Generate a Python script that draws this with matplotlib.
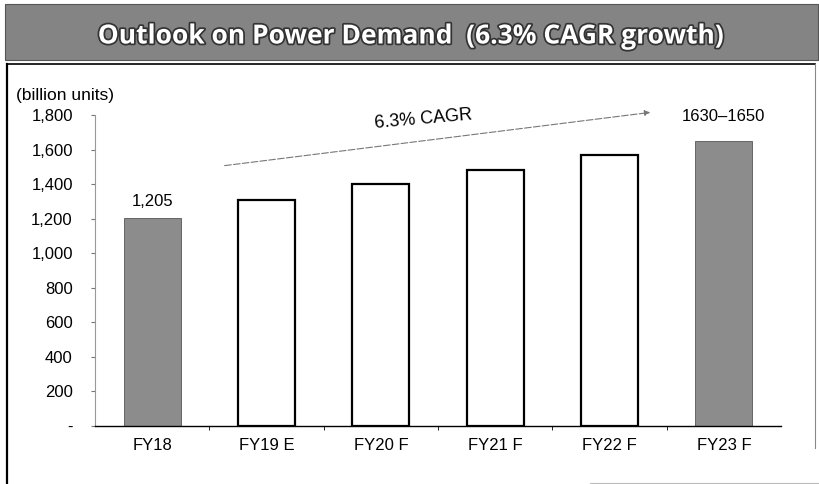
import numpy as np
import matplotlib
matplotlib.use('Agg')
import matplotlib.pyplot as plt
import matplotlib.patheffects as pe
from matplotlib.lines import Line2D
from matplotlib.patches import Rectangle

# data
years = ['FY18', 'FY19 E', 'FY20 F', 'FY21 F', 'FY22 F', 'FY23 F']
demand = [1205, 1310, 1400, 1480, 1570, 1650]
actual = [True, False, False, False, False, True]
bar_labels = {0: '1,205', 5: '1630\u20131650'}
yticks = [0, 200, 400, 600, 800, 1000, 1200, 1400, 1600, 1800]

plt.rcParams['font.family'] = ['Liberation Sans', 'DejaVu Sans']

W, H = 820, 484
fig = plt.figure(figsize=(W / 100, H / 100), dpi=100)

# title banner
fig.add_artist(Rectangle((5 / W, 1 - 60 / H), 813 / W, 56 / H, transform=fig.transFigure,
                         facecolor='#848484', edgecolor='#555555', lw=0.8))
fig.text(410 / W, 1 - 36 / H, 'Outlook on Power Demand  (6.3% CAGR growth)',
         ha='center', va='center', color='white', fontsize=19, fontweight='bold',
         family=['Open Sans', 'DejaVu Sans'],
         path_effects=[pe.withStroke(linewidth=2.5, foreground='#333333')])

# frame round the chart
fig.add_artist(Line2D([7 / W, 7 / W], [0, 1 - 64 / H], transform=fig.transFigure, color='black', lw=1.6))
fig.add_artist(Line2D([7 / W, 815 / W], [1 - 64 / H, 1 - 64 / H], transform=fig.transFigure, color='black', lw=1.2))
fig.add_artist(Line2D([815 / W, 815 / W], [1 - 448 / H, 1 - 64 / H], transform=fig.transFigure, color='#888888', lw=0.8))
fig.add_artist(Line2D([590 / W, 820 / W], [1 - 483 / H, 1 - 483 / H], transform=fig.transFigure, color='#bbbbbb', lw=0.8))

ax = fig.add_axes([95 / W, 58 / H, 686 / W, 311 / H])
x = np.arange(len(years))
for i in range(len(years)):
    if actual[i]:
        ax.bar(x[i], demand[i], width=0.5, color='#8c8c8c', edgecolor='#555555', lw=0.6)
    else:
        ax.bar(x[i], demand[i], width=0.5, color='white', edgecolor='black', lw=1.6)
    if i in bar_labels:
        off = 6 if i == 0 else 12
        ax.annotate(bar_labels[i], (x[i], demand[i]), xytext=(0, off), textcoords='offset points',
                    ha='center', va='bottom', fontsize=12)

ax.set_xlim(-0.5, len(years) - 0.5)
ax.set_ylim(0, 1800)
ax.set_xticks(x)
ax.set_xticklabels(years, fontsize=12)
ax.set_xticks(np.arange(0.5, len(years) - 1, 1), minor=True)
ax.tick_params(axis='x', which='major', length=0, pad=9)
ax.tick_params(axis='x', which='minor', length=3, direction='out')
ax.set_yticks(yticks)
ax.set_yticklabels(['-' if v == 0 else f'{v:,}' for v in yticks], fontsize=12)
ax.tick_params(axis='y', length=3, pad=13, color='#777777')
for s in ['top', 'right']:
    ax.spines[s].set_visible(False)
ax.spines['left'].set_color('#999999')
ax.spines['left'].set_linewidth(0.8)
ax.spines['bottom'].set_linewidth(1.0)

fig.text(16 / W, 1 - 95 / H, '(billion units)', ha='left', va='center', fontsize=12.5)

# CAGR arrow
ax.annotate('', xy=(4.38, 1817), xytext=(0.61, 1505), annotation_clip=False,
            arrowprops=dict(arrowstyle='-|>', color='#777777', lw=0.8, ls=(0, (6, 2)),
                            mutation_scale=8))
ax.text(2.37, 1777, '6.3% CAGR', ha='center', va='center', fontsize=13, rotation=5, clip_on=False)

fig.savefig('out.png', dpi=100)
